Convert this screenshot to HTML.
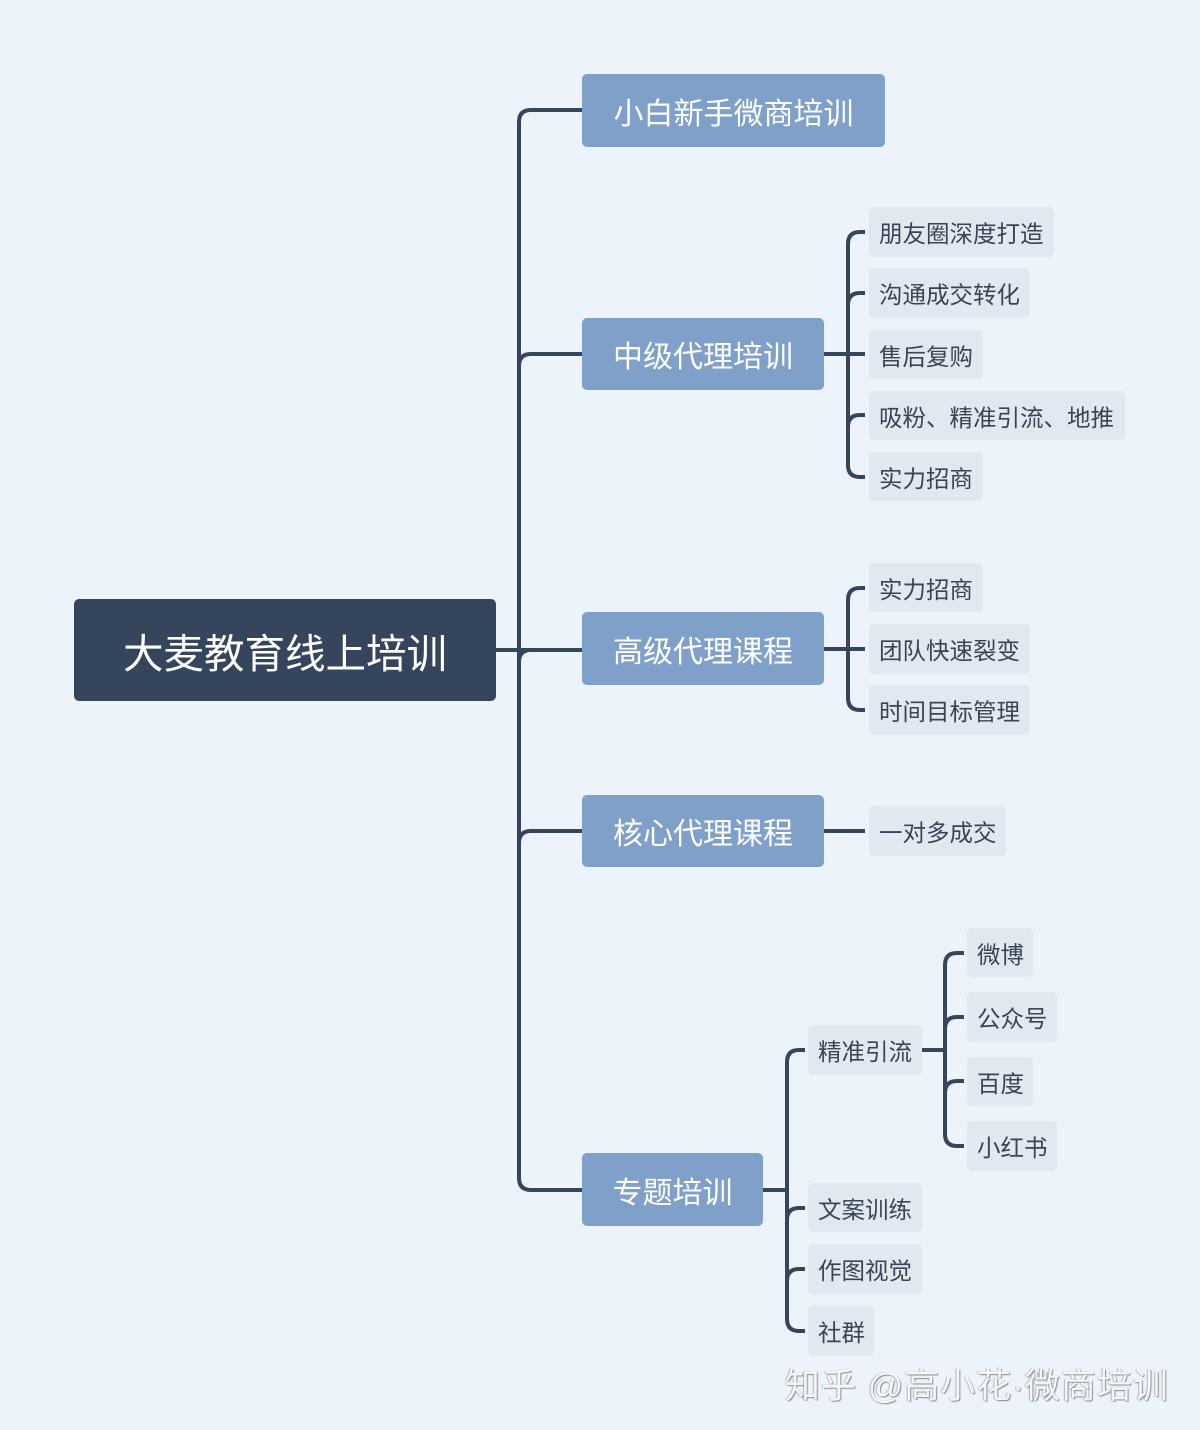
<!DOCTYPE html>
<html><head><meta charset="utf-8"><style>
body{margin:0;width:1200px;height:1430px;background:#edf3fa;position:relative;overflow:hidden;font-family:"Liberation Sans","Noto Sans CJK SC",sans-serif}
.b{position:absolute;display:flex;align-items:center;justify-content:center;box-sizing:border-box;white-space:nowrap}
.r{background:#34455c;color:#fff;font-size:40.5px;border-radius:5px}
.m{background:#7fa0c8;color:#fff;font-size:30px;border-radius:5px}
.l{background:#e2e8f0;color:#3a4454;font-size:23.5px;border-radius:5px;justify-content:flex-start;padding-left:10px}
svg{position:absolute;left:0;top:0}
.w{position:absolute;left:785px;top:1358px;font-size:35px;color:#f4f6f9;text-shadow:1px 1px 1px #8a8f96,-1px 0 1px #b0b5bb;letter-spacing:1px}
</style></head><body>
<svg width="1200" height="1430" fill="none" stroke="#34455c" stroke-width="4">
<path d="M496 650H582"/>
<path d="M582 110H531Q519 110 519 122V1178Q519 1190 531 1190H582"/>
<path d="M519 366Q519 354 531 354H582"/>
<path d="M519 662Q519 650 531 650"/>
<path d="M519 843Q519 831 531 831H582"/>
<path d="M824 354H848"/>
<path d="M865 232H860Q848 232 848 244V465Q848 477 860 477H865"/>
<path d="M848 305Q848 293 860 293H865"/>
<path d="M848 354H865"/>
<path d="M848 427Q848 415 860 415H865"/>
<path d="M824 649H865"/>
<path d="M865 588H860Q848 588 848 600V698Q848 710 860 710H865"/>
<path d="M824 831H865"/>
<path d="M763 1190H787"/>
<path d="M805 1050H799Q787 1050 787 1062V1319Q787 1331 799 1331H805"/>
<path d="M787 1220Q787 1208 799 1208H805"/>
<path d="M787 1281Q787 1269 799 1269H805"/>
<path d="M922 1050H945"/>
<path d="M964 953H957Q945 953 945 965V1134Q945 1146 957 1146H964"/>
<path d="M945 1029Q945 1017 957 1017H964"/>
<path d="M945 1093Q945 1081 957 1081H964"/>
</svg>
<div class="b r" style="left:74px;top:599px;width:422px;height:102px">大麦教育线上培训</div>
<div class="b m" style="left:582px;top:74px;width:303px;height:73px">小白新手微商培训</div>
<div class="b m" style="left:582px;top:318px;width:242px;height:72px">中级代理培训</div>
<div class="b m" style="left:582px;top:612px;width:242px;height:73px">高级代理课程</div>
<div class="b m" style="left:582px;top:795px;width:242px;height:72px">核心代理课程</div>
<div class="b m" style="left:582px;top:1153px;width:181px;height:73px">专题培训</div>
<div class="b l" style="left:869px;top:207px;width:185px;height:50px">朋友圈深度打造</div>
<div class="b l" style="left:869px;top:268px;width:161px;height:50px">沟通成交转化</div>
<div class="b l" style="left:869px;top:330px;width:114px;height:49px">售后复购</div>
<div class="b l" style="left:869px;top:391px;width:256px;height:49px">吸粉、精准引流、地推</div>
<div class="b l" style="left:869px;top:452px;width:114px;height:49px">实力招商</div>
<div class="b l" style="left:869px;top:563px;width:114px;height:49px">实力招商</div>
<div class="b l" style="left:869px;top:624px;width:161px;height:50px">团队快速裂变</div>
<div class="b l" style="left:869px;top:685px;width:161px;height:50px">时间目标管理</div>
<div class="b l" style="left:869px;top:806px;width:137px;height:50px">一对多成交</div>
<div class="b l" style="left:808px;top:1025px;width:114px;height:50px">精准引流</div>
<div class="b l" style="left:967px;top:928px;width:66px;height:49px">微博</div>
<div class="b l" style="left:967px;top:992px;width:90px;height:50px">公众号</div>
<div class="b l" style="left:967px;top:1057px;width:66px;height:49px">百度</div>
<div class="b l" style="left:967px;top:1121px;width:90px;height:50px">小红书</div>
<div class="b l" style="left:808px;top:1183px;width:114px;height:49px">文案训练</div>
<div class="b l" style="left:808px;top:1244px;width:114px;height:50px">作图视觉</div>
<div class="b l" style="left:808px;top:1306px;width:66px;height:50px">社群</div>
<div class="w">知乎 @高小花·微商培训</div>
</body></html>
